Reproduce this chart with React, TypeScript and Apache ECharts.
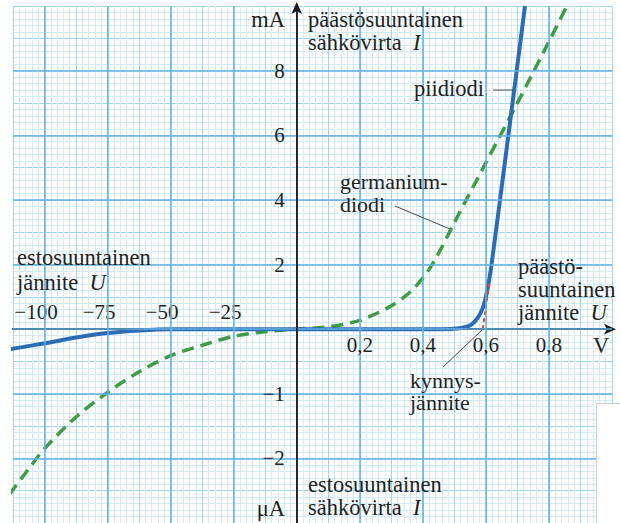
import React, { useEffect, useRef } from 'react';
import * as echarts from 'echarts';

// Forward (päästösuuntainen) region: voltage in V, current in mA
const siliconForwardV = [0, 0.3, 0.45, 0.5, 0.53, 0.555, 0.575, 0.59, 0.6, 0.61, 0.62, 0.67, 0.724];
const siliconForwardI = [0, 0, 0, 0.01, 0.05, 0.15, 0.36, 0.65, 1.0, 1.5, 2.15, 5.9, 10.0];
const germaniumForwardV = [0, 0.1, 0.2, 0.3, 0.36, 0.4, 0.42, 0.44, 0.46, 0.48, 0.5, 0.6, 0.7, 0.8, 0.857];
const germaniumForwardI = [0, 0.07, 0.27, 0.72, 1.15, 1.58, 1.85, 2.17, 2.53, 2.91, 3.3, 5.15, 7.0, 8.9, 10.0];

// Reverse (estosuuntainen) region: voltage in V, current in μA
const siliconReverseV = [-113.5, -100, -87.5, -75, -62.5, -50, 0];
const siliconReverseI = [-0.31, -0.22, -0.13, -0.06, -0.02, 0, 0];
const germaniumReverseV = [-114, -107, -100, -87.5, -75, -62.5, -50, -37.5, -25, -12.5, 0];
const germaniumReverseI = [-2.56, -2.2, -1.85, -1.36, -0.98, -0.66, -0.41, -0.25, -0.11, -0.04, 0];

// Threshold voltage (kynnysjännite) tangent, V and mA
const thresholdV = [0.59, 0.612];
const thresholdI = [0, 1.5];

// Tick labels
const forwardVoltTicks = [0.2, 0.4, 0.6, 0.8];
const reverseVoltTicks = [-100, -75, -50, -25];
const forwardCurrentTicks = [2, 4, 6, 8];
const reverseCurrentTicks = [-1, -2];

// Broken scale: one major square = 0.2 V / 25 V horizontally, 2 mA / 1 μA vertically
const FWD_V_STEP = 0.2;
const REV_V_STEP = 25;
const FWD_I_STEP = 2;
const REV_I_STEP = 1;
const fx = (v: number) => v / FWD_V_STEP;
const rx = (v: number) => v / REV_V_STEP;
const fy = (i: number) => i / FWD_I_STEP;
const ry = (i: number) => i / REV_I_STEP;

const eq = (a: number, b: number) => Math.abs(a - b) < 1e-6;

const FONT = "'Liberation Serif', 'Times New Roman', serif";
const TEXT = '#231f20';
const MAJOR = '#62b3e4';
const MEDIUM = '#a6d4f0';
const MINOR = '#d4ebf8';
const BLUE = '#2b6cb5';
const GREEN = '#3f9c45';
const RED = '#e8432f';

// grid geometry
const G_LEFT = 13;
const G_TOP = 6;
const G_W = 599;
const G_H = 517;
const X_MIN = -4.5;
const X_MAX = 5;
const Y_MIN = -3;
const Y_MAX = 5;
const ZERO_X = G_LEFT + ((0 - X_MIN) / (X_MAX - X_MIN)) * G_W;
const ZERO_Y = G_TOP + ((Y_MAX - 0) / (Y_MAX - Y_MIN)) * G_H;

function buildOption() {
  const silicon = [
    ...siliconReverseV.map((v, k) => [rx(v), ry(siliconReverseI[k])]),
    ...siliconForwardV.map((v, k) => [fx(v), fy(siliconForwardI[k])]),
  ];
  const germanium = [
    ...germaniumReverseV.map((v, k) => [rx(v), ry(germaniumReverseI[k])]),
    ...germaniumForwardV.map((v, k) => [fx(v), fy(germaniumForwardI[k])]),
  ];
  const threshold = thresholdV.map((v, k) => [fx(v), fy(thresholdI[k])]);

  const xMajors = [...reverseVoltTicks.map(rx), 0, ...forwardVoltTicks.map(fx)];
  const yMajors = [...reverseCurrentTicks.map(ry), 0, ...forwardCurrentTicks.map(fy)];

  const tickFont = { fontFamily: FONT, fontSize: 21, color: TEXT };
  const axisStroke = { color: '#1a1a1a', width: 1.8 };
  const gridBox = {
    left: G_LEFT,
    top: G_TOP,
    width: G_W,
    height: G_H,
    containLabel: false,
    outerBoundsMode: 'none',
  };
  const xBase = { type: 'value', min: X_MIN, max: X_MAX, interval: 0.5 };
  const yBase = { type: 'value', min: Y_MIN, max: Y_MAX, interval: 0.5 };
  const noTick = { show: false };

  // lines: text of each line; y: centre of the block; lh: distance between lines
  const text = (lines: string[], x: number, y: number, lh = 23.3, align = 'left', size = 22.5) => ({
    type: 'text',
    z: 50,
    silent: true,
    style: {
      text: lines.join('\n'),
      x,
      y,
      fill: TEXT,
      fontSize: size,
      fontFamily: FONT,
      lineHeight: lh,
      align,
      verticalAlign: 'middle',
      textAlign: align,
      textVerticalAlign: 'middle',
      rich: {
        i: { fontStyle: 'italic', fontSize: size, fontFamily: FONT, fill: TEXT, lineHeight: lh },
      },
    },
  });
  const leader = (x1: number, y1: number, x2: number, y2: number) => ({
    type: 'line',
    z: 50,
    silent: true,
    shape: { x1, y1, x2, y2 },
    style: { stroke: '#4a4a4a', lineWidth: 1 },
  });

  return {
    animation: false,
    backgroundColor: '#ffffff',
    textStyle: { fontFamily: FONT },
    grid: [gridBox, gridBox],
    xAxis: [
      // grid paper (vertical lines)
      {
        ...xBase,
        gridIndex: 0,
        position: 'bottom',
        z: 0,
        axisLine: { show: false, onZero: false },
        axisTick: noTick,
        axisLabel: { show: false },
        splitLine: { show: true, lineStyle: { color: MEDIUM, width: 1 } },
        minorTick: { show: false, splitNumber: 5 },
        minorSplitLine: { show: true, lineStyle: { color: MINOR, width: 1 } },
      },
      // forward-voltage tick labels, below the U axis
      {
        ...xBase,
        gridIndex: 1,
        position: 'bottom',
        offset: -(G_TOP + G_H - ZERO_Y),
        z: 5,
        axisLine: { show: false, onZero: false },
        axisTick: noTick,
        axisLabel: {
          ...tickFont,
          margin: 5,
          formatter: (c: number) => {
            const t = forwardVoltTicks.find((v) => eq(fx(v), c));
            return t === undefined ? '' : t.toFixed(1).replace('.', ',');
          },
        },
        splitLine: { show: false },
      },
      // U axis line and reverse-voltage tick labels above it
      {
        ...xBase,
        gridIndex: 1,
        position: 'top',
        offset: -(ZERO_Y - G_TOP),
        z: 2,
        axisLine: {
          show: true,
          onZero: false,
          symbol: ['none', 'arrow'],
          symbolSize: [8, 12],
          symbolOffset: [0, 4],
          lineStyle: axisStroke,
        },
        axisTick: noTick,
        axisLabel: {
          ...tickFont,
          margin: 7,
          padding: [0, 17, 0, 0],
          formatter: (c: number) => {
            const t = reverseVoltTicks.find((v) => eq(rx(v), c));
            return t === undefined ? '' : '\u2212' + String(-t);
          },
        },
        splitLine: { show: false },
      },
    ],
    yAxis: [
      // grid paper (horizontal lines)
      {
        ...yBase,
        gridIndex: 0,
        position: 'left',
        z: 0,
        axisLine: { show: false, onZero: false },
        axisTick: noTick,
        axisLabel: { show: false },
        splitLine: { show: true, lineStyle: { color: MEDIUM, width: 1 } },
        minorTick: { show: false, splitNumber: 5 },
        minorSplitLine: { show: true, lineStyle: { color: MINOR, width: 1 } },
      },
      // I axis line and current tick labels
      {
        ...yBase,
        gridIndex: 1,
        position: 'left',
        offset: -(ZERO_X - G_LEFT),
        z: 5,
        axisLine: {
          show: true,
          onZero: false,
          symbol: ['none', 'arrow'],
          symbolSize: [8, 12],
          symbolOffset: [0, 4],
          lineStyle: axisStroke,
        },
        axisTick: noTick,
        axisLabel: {
          ...tickFont,
          margin: 12,
          formatter: (c: number) => {
            const p = forwardCurrentTicks.find((v) => eq(fy(v), c));
            if (p !== undefined) return String(p);
            const n = reverseCurrentTicks.find((v) => eq(ry(v), c));
            if (n !== undefined) return '\u2212' + String(-n);
            return '';
          },
        },
        splitLine: { show: false },
      },
    ],
    series: [
      {
        type: 'line',
        name: 'grid',
        z: 1,
        silent: true,
        data: [],
        showSymbol: false,
        markLine: {
          silent: true,
          symbol: 'none',
          label: { show: false },
          lineStyle: { color: MAJOR, width: 1.5, type: 'solid' },
          data: [...xMajors.map((c) => ({ xAxis: c })), ...yMajors.map((c) => ({ yAxis: c }))],
        },
      },
      {
        type: 'line',
        name: 'germaniumdiodi',
        z: 3,
        data: germanium,
        showSymbol: false,
        symbol: 'none',
        clip: false,
        smooth: 0.3,
        lineStyle: { color: GREEN, width: 3.5, type: [12, 7] },
      },
      {
        type: 'line',
        name: 'piidiodi',
        z: 3,
        data: silicon,
        showSymbol: false,
        symbol: 'none',
        clip: false,
        smooth: 0.3,
        lineStyle: { color: BLUE, width: 4 },
      },
      {
        type: 'line',
        name: 'kynnysjännite',
        z: 4,
        data: threshold,
        showSymbol: false,
        symbol: 'none',
        clip: false,
        lineStyle: { color: RED, width: 2, type: [4, 3] },
      },
    ],
    graphic: [
      text(['mA'], 285, 19.5, 23.3, 'right'),
      text(['päästösuuntainen', 'sähkövirta  {i|I}'], 308, 30.8),
      text(['piidiodi'], 484, 88.6, 23.3, 'right'),
      leader(493, 90, 513, 90),
      text(['germanium-', 'diodi'], 340, 193, 22.6, 'left', 22),
      leader(395, 206, 450, 229),
      text(['estosuuntainen', 'jännite  {i|U}'], 17, 270, 25),
      text(['päästö-', 'suuntainen', 'jännite  {i|U}'], 518, 289.3),
      text(['V'], 593, 345),
      text(['kynnys-', 'jännite'], 410, 391.5, 22.6, 'left', 22),
      leader(443, 367, 482, 330),
      text(['estosuuntainen', 'sähkövirta  {i|I}'], 308, 496.2, 23.5),
      text(['μA'], 285, 508, 23.3, 'right'),
      {
        type: 'rect',
        z: 60,
        silent: true,
        shape: { x: 596.5, y: 403.5, width: 40, height: 130 },
        style: { fill: '#ffffff', stroke: '#cfcfcf', lineWidth: 1 },
      },
    ],
  };
}

export default function App() {
  const ref = useRef<HTMLDivElement>(null);
  useEffect(() => {
    if (!ref.current) return;
    const chart = echarts.init(ref.current, undefined, { renderer: 'svg' });
    chart.setOption(buildOption() as any);
    return () => chart.dispose();
  }, []);
  return (
    <div
      ref={ref}
      style={{ position: 'absolute', left: 0, top: 0, width: 620, height: 523, background: '#fff' }}
    />
  );
}
